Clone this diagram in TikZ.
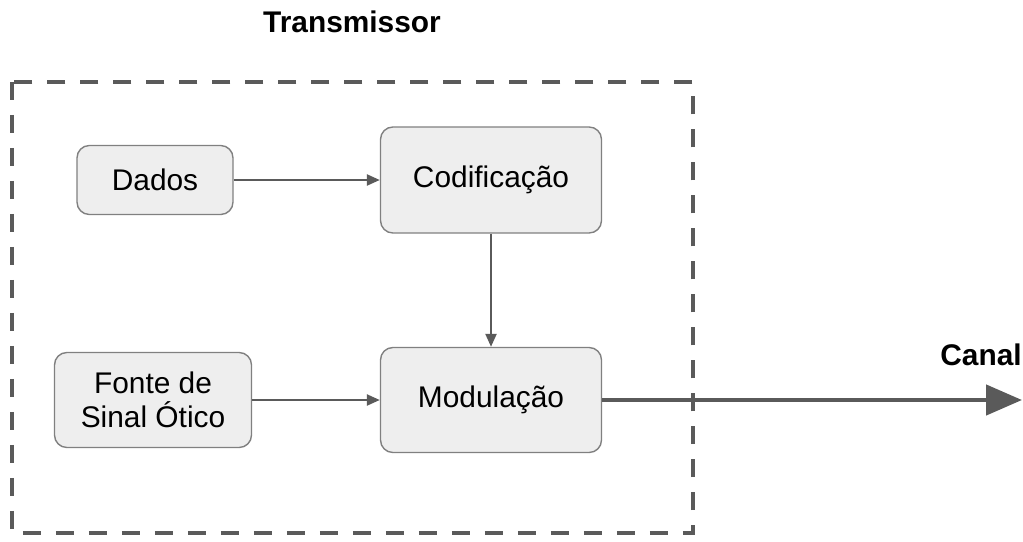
\documentclass[tikz,border=0pt]{standalone}
\usepackage{fontspec}
\setmainfont{Liberation Sans}
\usepackage{xcolor}
\usepackage{tikz}
\usetikzlibrary{arrows.meta, positioning}
\definecolor{boxfill}{HTML}{EEEEEE}
\definecolor{boxline}{HTML}{808080}
\definecolor{wiregray}{HTML}{5A5A5A}

\begin{document}
\begin{tikzpicture}[
  x=0.02cm, y=-0.02cm,
  block/.style={draw=boxline, fill=boxfill, line width=0.8pt, rounded corners=7pt,
    font=\fontsize{17}{19}\selectfont, align=center, inner sep=0pt},
  wire/.style={draw=wiregray, line width=1.3pt, -{Triangle[length=0.26cm, width=0.22cm]}},
  title/.style={font=\fontsize{17}{20}\selectfont\bfseries},
]
  \useasboundingbox (0,0) rectangle (1023,541);

  % Frame
  \draw[wiregray, line width=1.9pt, dash pattern=on 0.36cm off 0.3cm] (12,82) rectangle (693,533);
  \node[title] (tx) at (352,22) {Transmissor};

  % Blocks
  \node[block, minimum width=3.12cm, minimum height=1.38cm] (dados) at (155,180) {Dados};
  \node[block, minimum width=4.42cm, minimum height=2.12cm] (codif) at (491,180) {Codificação};
  \node[block, minimum width=3.94cm, minimum height=1.9cm] (fonte) at (153,400) {Fonte de\\Sinal Ótico};
  \node[block, minimum width=4.42cm, minimum height=2.1cm] (modul) at (491,400) {Modulação};

  % Arrows
  \draw[wire] (dados) -- (codif);
  \draw[wire] (codif) -- (modul);
  \draw[wire] (fonte) -- (modul);

  % Output
  \coordinate (out) at (1022,400);
  \draw[wiregray, line width=2.6pt, -{Triangle[length=0.72cm, width=0.6cm]}] (modul.east) -- (out);
  \node[title] (canal) at (981,355) {Canal};

\end{tikzpicture}
\end{document}
